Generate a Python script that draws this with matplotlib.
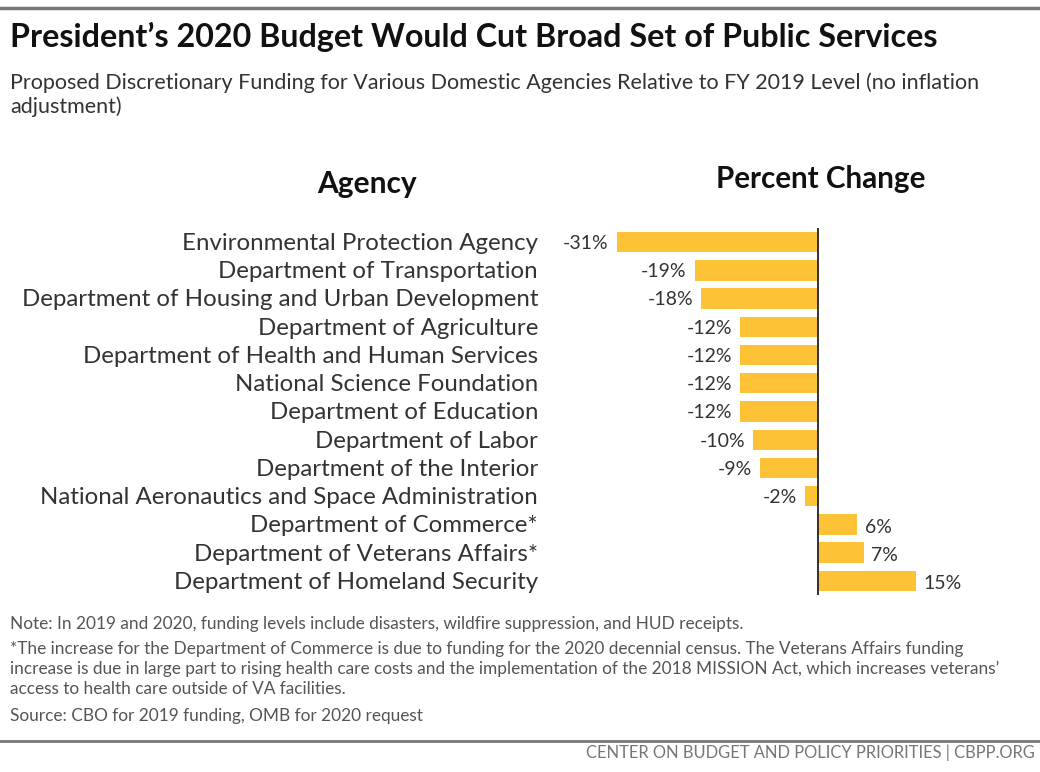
import matplotlib
matplotlib.use('Agg')
import matplotlib.pyplot as plt
from matplotlib.lines import Line2D

#----------------------------------------------------------------
# Data
#----------------------------------------------------------------
agencies = [
    "Environmental Protection Agency",
    "Department of Transportation",
    "Department of Housing and Urban Development",
    "Department of Agriculture",
    "Department of Health and Human Services",
    "National Science Foundation",
    "Department of Education",
    "Department of Labor",
    "Department of the Interior",
    "National Aeronautics and Space Administration",
    "Department of Commerce*",
    "Department of Veterans Affairs*",
    "Department of Homeland Security",
]
pct_change = [-31, -19, -18, -12, -12, -12, -12, -10, -9, -2, 6, 7, 15]

W, H = 1040, 772
plt.rcParams['font.family'] = ['Lato', 'DejaVu Sans']

fig = plt.figure(figsize=(W / 100, H / 100), dpi=100)


def fx(px):
    return px / W


def fy(py):
    return 1 - py / H


# axes rectangle in pixels
ax_l, ax_r, ax_t, ax_b = 540, 1000, 228, 595
ax = fig.add_axes([fx(ax_l), fy(ax_b), fx(ax_r - ax_l), (ax_b - ax_t) / H])

bar_color = '#FDC236'
text_color = '#333333'

ypos = list(range(len(agencies)))
ax.barh(ypos, pct_change, height=0.72, color=bar_color, zorder=2)
ax.axvline(0, color='#222222', linewidth=1.3, zorder=3)

px_per_pct = 6.5
ax.set_xlim(-(818 - ax_l) / px_per_pct, (ax_r - 818) / px_per_pct)
ax.set_ylim(len(agencies) - 0.5, -0.5)
ax.axis('off')

# value labels
for y, v in zip(ypos, pct_change):
    if v < 0:
        ax.text(v - 1.2, y + 0.05, "{}%".format(v), ha='right', va='center',
                fontsize=14, color=text_color)
    else:
        ax.text(v + 1.2, y + 0.1, "{}%".format(v), ha='left', va='center',
                fontsize=14, color=text_color)

# agency labels
for y, name in zip(ypos, agencies):
    ax.text(-(818 - 538) / px_per_pct, y + 0.05, name, ha='right', va='center',
            fontsize=17.3, color=text_color)

#----------------------------------------------------------------
# Titles and headers
#----------------------------------------------------------------
fig.text(fx(10), fy(37), "President\u2019s 2020 Budget Would Cut Broad Set of Public Services",
         fontsize=23.2, fontweight='bold', color='#111111', va='center', ha='left')
fig.text(fx(10), fy(83),
         "Proposed Discretionary Funding for Various Domestic Agencies Relative to FY 2019 Level (no inflation",
         fontsize=15.5, color=text_color, va='center', ha='left')
fig.text(fx(10), fy(107), "adjustment)",
         fontsize=15.5, color=text_color, va='center', ha='left')

fig.text(fx(367), fy(184), "Agency", fontsize=21.5, fontweight='bold',
         color='#111111', ha='center', va='center')
fig.text(fx(821), fy(179), "Percent Change", fontsize=21.3, fontweight='bold',
         color='#111111', ha='center', va='center')

#----------------------------------------------------------------
# Notes and footer
#----------------------------------------------------------------
note_color = '#555555'
note_lines = [
    (624, "Note: In 2019 and 2020, funding levels include disasters, wildfire suppression, and HUD receipts."),
    (649, "*The increase for the Department of Commerce is due to funding for the 2020 decennial census. The Veterans Affairs funding"),
    (669, "increase is due in large part to rising health care costs and the implementation of the 2018 MISSION Act, which increases veterans\u2019"),
    (689, "access to health care outside of VA facilities."),
    (716, "Source: CBO for 2019 funding, OMB for 2020 request"),
]
for py, line in note_lines:
    fig.text(fx(10), fy(py), line, fontsize=12.4, color=note_color, va='center')

fig.text(fx(1035), fy(753), "CENTER ON BUDGET AND POLICY PRIORITIES | CBPP.ORG",
         fontsize=11.9, color='#777777', ha='right', va='center')

# rules
fig.add_artist(Line2D([0, 1], [fy(8), fy(8)], color='#777777', linewidth=2.5))
fig.add_artist(Line2D([0, 1], [fy(741), fy(741)], color='#777777', linewidth=2.0))

fig.savefig('out.png', dpi=100)
plt.close(fig)
